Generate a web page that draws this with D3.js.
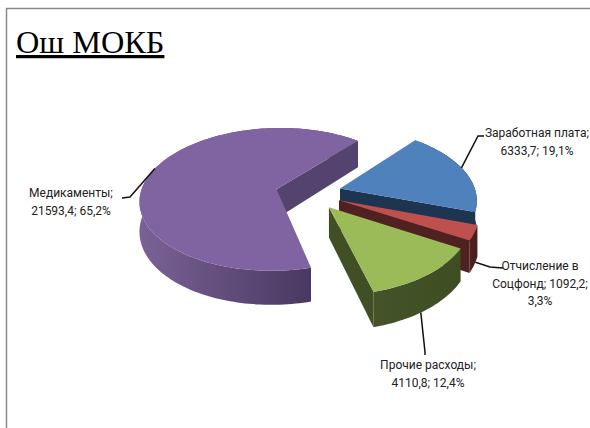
<!DOCTYPE html>
<html lang="ru">
<head>
<meta charset="utf-8">
<script src="https://cdn.jsdelivr.net/npm/d3@7/dist/d3.min.js"></script>
<style>
  html, body { margin: 0; padding: 0; background: #fff; }
  svg { display: block; }
  text { font-family: Roboto, "Open Sans", sans-serif; fill: #222; }
</style>
</head>
<body>
<svg id="chart" width="590" height="428"></svg>
<script>
// Expense categories of the hospital budget
const categories = ["Заработная плата", "Отчисление в Соцфонд", "Прочие расходы", "Медикаменты"];
const amounts = [6333.7, 1092.2, 4110.8, 21593.4];
const percentLabels = ["19,1%", "3,3%", "12,4%", "65,2%"];
const amountLabels = ["6333,7", "1092,2", "4110,8", "21593,4"];

const topColors = ["#4f81bd", "#c0504d", "#9bbb59", "#8064a2"];
const wallColors = [["#1e3551", "#1e3551"], ["#4f2120", "#4a1e1d"], ["#44532a", "#3f4d22"], ["#7a6296", "#3c2d52"]];
const sideColors = ["#1e3551", "#4f2120", "#414f24", "#54426f"];

// Pie geometry: a tilted disc with a mild perspective towards the viewer
const centre = { x: 308.5, y: 193 };
const radius = 136, tilt = 0.522, depth = 29.5, explode = 33, perspective = 0.00105;
const firstAngle = 40 * Math.PI / 180;

const svg = d3.select("#chart");
const defs = svg.append("defs");

// Frame of the picture
svg.append("path").attr("d", "M6.5,428V8.5H590")
  .attr("fill", "none").attr("stroke", "#8a8a8a").attr("stroke-width", 1.5);

// Title
svg.append("text").attr("x", 16).attr("y", 53)
  .style("font-family", '"Liberation Serif", serif').style("font-size", "32.3px").style("fill", "#000")
  .attr("text-decoration", "underline").text("Ош МОКБ");

function project(u, v, z) {
  const s = 1 / (1 - v * perspective);
  return [centre.x + u * s, centre.y + (v * tilt + z) * s];
}

const pie = d3.pie().sort(null)
  .startAngle(firstAngle).endAngle(firstAngle + 2 * Math.PI);
const arcs = pie(amounts);

function slicePoint(d, angle, r, z) {
  const mid = (d.startAngle + d.endAngle) / 2;
  const ox = Math.sin(mid) * explode, oy = -Math.cos(mid) * explode;
  return project(ox + Math.sin(angle) * r, oy - Math.cos(angle) * r, z);
}

function rim(d, z) {
  const n = Math.max(8, Math.ceil((d.endAngle - d.startAngle) * 40));
  return d3.range(n + 1).map(i => {
    const a = d.startAngle + (d.endAngle - d.startAngle) * i / n;
    return slicePoint(d, a, radius, z);
  });
}

const line = d3.line();
const closed = pts => line(pts) + "Z";

// Purple slice goes first since the others sit in front of it
const drawOrder = [3, 0, 1, 2];
drawOrder.forEach(i => {
  const d = arcs[i];
  const g = svg.append("g");
  const top = rim(d, 0), bottom = rim(d, depth);

  // Outer wall, shaded across its width
  const xs = top.map(p => p[0]);
  const gradId = "wall" + i;
  const grad = defs.append("linearGradient").attr("id", gradId)
    .attr("gradientUnits", "userSpaceOnUse")
    .attr("x1", d3.min(xs)).attr("x2", d3.max(xs)).attr("y1", 0).attr("y2", 0);
  grad.append("stop").attr("offset", "0").attr("stop-color", wallColors[i][0]);
  grad.append("stop").attr("offset", "1").attr("stop-color", wallColors[i][1]);
  g.append("path").attr("d", closed(top.concat(bottom.slice().reverse())))
    .attr("fill", `url(#${gradId})`);

  // Flat cut faces, only those turned towards the viewer
  const faces = [
    [slicePoint(d, 0, 0, 0), top[0], bottom[0], slicePoint(d, 0, 0, depth)],
    [top[top.length - 1], slicePoint(d, 0, 0, 0), slicePoint(d, 0, 0, depth), bottom[bottom.length - 1]]
  ];
  faces.forEach(f => {
    if (d3.polygonArea(f) > 0) {
      g.append("path").attr("d", closed(f)).attr("fill", sideColors[i]);
    }
  });

  // Upper surface
  g.append("path").attr("d", closed([slicePoint(d, 0, 0, 0)].concat(top))).attr("fill", topColors[i]);
});

// Data labels and their leader lines
const labelLines = [
  ["Заработная плата;", `${amountLabels[0]}; ${percentLabels[0]}`],
  ["Отчисление в", `Соцфонд; ${amountLabels[1]};`, percentLabels[1]],
  ["Прочие расходы;", `${amountLabels[2]}; ${percentLabels[2]}`],
  ["Медикаменты;", `${amountLabels[3]}; ${percentLabels[3]}`]
];
const labelAnchors = [[537, 133], [540, 266], [428, 365], [71, 193]];
const leaderAngles = [72, 113, 146, 288].map(a => a * Math.PI / 180);
const leaderElbows = [[478, 136], [490, 267], [425, 352], [130, 197]];
const leaderEnds = [[484, 136], [503, 268], [425, 355], [122, 198]];
const leaderDepth = [0, depth, depth, 0];

labelLines.forEach((rows, i) => {
  const t = svg.append("text").attr("text-anchor", "middle")
    .attr("transform", `translate(${labelAnchors[i]})`).style("font-size", "12px");
  rows.forEach((r, k) => t.append("tspan").attr("x", 0).attr("dy", k ? 17.5 : 4).text(r));

  const start = slicePoint(arcs[i], leaderAngles[i], radius, leaderDepth[i]);
  svg.append("path").attr("d", line([start, leaderElbows[i], leaderEnds[i]]))
    .attr("fill", "none").attr("stroke", "#111").attr("stroke-width", 1.5);
});
</script>
</body>
</html>
